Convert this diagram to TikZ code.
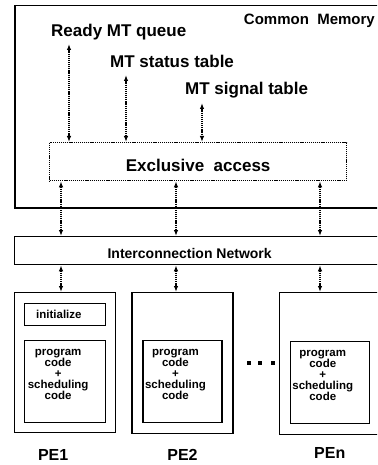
\documentclass[tikz,border=0pt]{standalone}
\usepackage{fontspec}
\setmainfont{Liberation Sans}
\usetikzlibrary{arrows.meta,positioning,calc}
\tikzset{
  box/.style={rectangle, draw=black, line width=1.3pt, inner sep=0pt},
  dbox/.style={rectangle, draw=black, line width=1.3pt, dash pattern=on 1.2pt off 0.9pt, inner sep=0pt},
  lbl/.style={font=\fontsize{17}{20}\selectfont\bfseries, inner sep=0pt},
  codetxt/.style={align=center, inner sep=0pt, font=\fontsize{11.5}{11}\selectfont\bfseries},
  ar/.style={{Latex[length=6pt,width=4.5pt]}-{Latex[length=6pt,width=4.5pt]}, line width=1.3pt, dash pattern=on 1.2pt off 0.9pt}
}
\begin{document}
\begin{tikzpicture}[x=1pt, y=-1pt,
  dotbox/.style={rectangle, fill=black, minimum size=4pt, inner sep=0pt},
  pelbl/.style={font=\fontsize{16}{18}\selectfont\bfseries, inner sep=0pt}
]
\useasboundingbox (0,0) rectangle (377,465);
\clip (0,0) rectangle (377,465);
% ---- common memory ----
\node[box, line width=1.5pt, minimum width=375pt, minimum height=202pt, anchor=north west] (mem) at (14,5) {};
\node[lbl, font=\fontsize{15}{18}\selectfont\bfseries, anchor=base east] (memtxt) at (375,25) {Common\ \ Memory};
\node[lbl, anchor=base west] (rq) at (51,37) {Ready MT queue};
\node[lbl, anchor=base west] (st) at (110,68) {MT status table};
\node[lbl, anchor=base west] (sg) at (185,95) {MT signal table};
\node[dbox, minimum width=297pt, minimum height=38pt, anchor=north west] (excl) at (49,142) {};
\node[lbl] (excltxt) at ([yshift=-4pt]excl.center) {Exclusive\ \ access};
\coordinate (t1) at ([xshift=18pt,yshift=-7pt]rq.base west);
\coordinate (t2) at ([xshift=16pt,yshift=-7pt]st.base west);
\coordinate (t3) at ([xshift=17pt,yshift=-8pt]sg.base west);
\draw[ar] (t1) -- (t1 |- excl.north);
\draw[ar] (t2) -- (t2 |- excl.north);
\draw[ar] (t3) -- (t3 |- excl.north);
% ---- network ----
\node[box, minimum width=375pt, minimum height=28pt, anchor=north west] (net) at (14,236) {};
\node[lbl, font=\fontsize{14}{16}\selectfont\bfseries] (nettxt) at ([xshift=-12.5pt,yshift=-3pt]net.center) {Interconnection Network};
\coordinate (b1) at ([xshift=12pt]excl.south west);
\coordinate (b2) at ([xshift=127pt]excl.south west);
\coordinate (b3) at ([xshift=271pt]excl.south west);
\draw[ar] (b1) -- (b1 |- net.north);
\draw[ar] (b2) -- (b2 |- net.north);
\draw[ar] (b3) -- (b3 |- net.north);
% ---- processing elements ----
\node[box, minimum width=101pt, minimum height=140pt, anchor=north west] (pe1) at (14,292) {};
\node[box, minimum width=101pt, minimum height=141pt, right=15pt of pe1.north east, anchor=north west] (pe2) {};
\node[box, minimum width=101pt, minimum height=142pt, right=45pt of pe2.north east, anchor=north west] (pen) {};
\draw[ar] (b1 |- net.south) -- (b1 |- pe1.north);
\draw[ar] (b2 |- net.south) -- (b2 |- pe2.north);
\draw[ar] (b3 |- net.south) -- (b3 |- pen.north);
\node[box, minimum width=81pt, minimum height=22pt, below=11pt of pe1.north] (init) {};
\node[codetxt, anchor=west] (inittxt) at ([xshift=12pt]init.west) {initialize};
\node[box, minimum width=81pt, minimum height=82pt, below=48pt of pe1.north] (code1) {};
\node[box, minimum width=79pt, minimum height=82pt, below=48pt of pe2.north] (code2) {};
\node[box, minimum width=79pt, minimum height=82pt, below=49pt of pen.north] (coden) {};
\node[codetxt] (code1txt) at ([xshift=-7pt,yshift=7pt]code1.center) {program\\code\\+\\scheduling\\code};
\node[codetxt] (code2txt) at ([xshift=-7pt,yshift=7pt]code2.center) {program\\code\\+\\scheduling\\code};
\node[codetxt] (codentxt) at ([xshift=-7pt,yshift=7pt]coden.center) {program\\code\\+\\scheduling\\code};
\node[dotbox] (d2) at ([xshift=4pt]$(pe2.east)!0.5!(pen.west)$) {};
\node[dotbox, left=11pt of d2.center, anchor=center] (d1) {};
\node[dotbox, right=13pt of d2.center, anchor=center] (d3) {};
\node[pelbl] (pe1lbl) at ([xshift=-12pt,yshift=-22pt]pe1.south) {PE1};
\node[pelbl] (pe2lbl) at ([yshift=-21pt]pe2.south) {PE2};
\node[pelbl] (penlbl) at ([yshift=-18pt]pen.south) {PEn};
\end{tikzpicture}
\end{document}
